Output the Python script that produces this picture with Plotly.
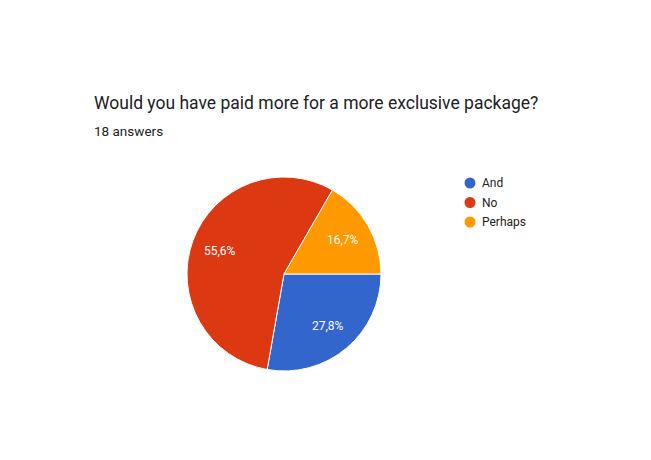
import math
import plotly.graph_objects as go

labels = ["And", "No", "Perhaps"]
values = [5, 10, 3]
colors = ["#3366cc", "#dc3912", "#ff9900"]
title = "Would you have paid more for a more exclusive package?"
subtitle = "18 answers"

W, H = 651, 460
cx, cy, r = 284, 274, 97  # pie centre / radius in pixels
fig = go.Figure()
fig.add_trace(go.Pie(
    labels=labels, values=values, sort=False, direction="clockwise", rotation=90,
    marker=dict(colors=colors, line=dict(color="white", width=1)),
    textinfo="none", showlegend=False, hoverinfo="label+percent",
    domain=dict(x=[(cx - r) / W, (cx + r) / W], y=[1 - (cy + r) / H, 1 - (cy - r) / H]),
))

annotations = [
    dict(text=title, x=92 / W, y=1 - 103 / H, xref="paper", yref="paper",
         xanchor="left", yanchor="middle", showarrow=False,
         font=dict(size=17.5, color="#202124", family="Roboto")),
    dict(text=subtitle, x=92 / W, y=1 - 131 / H, xref="paper", yref="paper",
         xanchor="left", yanchor="middle", showarrow=False,
         font=dict(size=13.5, color="#202124", family="Roboto")),
]

# slice percentage labels at 0.7 r along each slice's mid angle (clockwise from 3 o'clock)
total = sum(values)
acc = 0
for v in values:
    mid = (acc + v / 2) / total * 2 * math.pi
    acc += v
    px = cx + 0.7 * r * math.cos(mid)
    py = cy + 0.7 * r * math.sin(mid)
    pct = f"{v / total * 100:.1f}".replace(".", ",") + "%"
    annotations.append(dict(text=pct, x=px / W, y=1 - py / H, xref="paper", yref="paper",
                            xanchor="center", yanchor="middle", showarrow=False,
                            font=dict(size=12, color="white", family="Roboto")))

# legend drawn manually with circles
shapes = []
for i, (lab, col) in enumerate(zip(labels, colors)):
    ly = 183 + i * 19.5
    shapes.append(dict(type="circle", xref="paper", yref="paper",
                       x0=(470 - 5.5) / W, x1=(470 + 5.5) / W,
                       y0=1 - (ly + 5.5) / H, y1=1 - (ly - 5.5) / H,
                       fillcolor=col, line=dict(width=0)))
    annotations.append(dict(text=lab, x=479.5 / W, y=1 - ly / H, xref="paper", yref="paper",
                            xanchor="left", yanchor="middle", showarrow=False,
                            font=dict(size=12, color="#222222", family="Roboto")))

fig.update_layout(
    width=W, height=H, margin=dict(l=0, r=0, t=0, b=0),
    paper_bgcolor="white", plot_bgcolor="white",
    font=dict(family="Roboto", color="#202124"),
    annotations=annotations, shapes=shapes,
)
fig.write_html("out.html")
